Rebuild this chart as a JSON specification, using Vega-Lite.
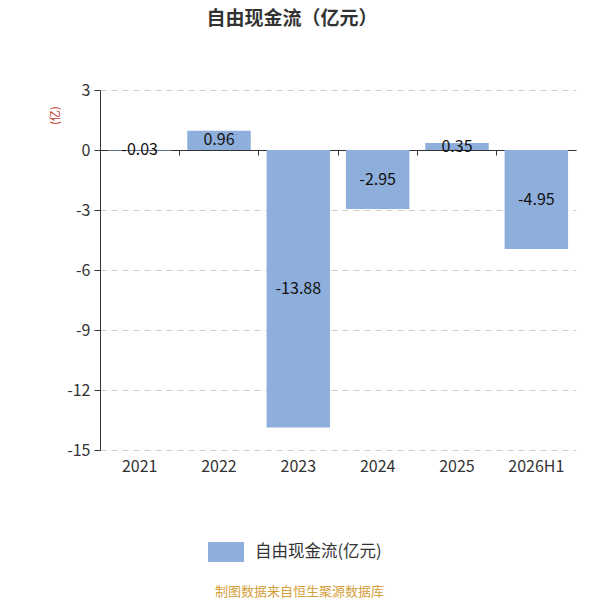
{
  "$schema": "https://vega.github.io/schema/vega-lite/v6.json",
  "autosize": "none",
  "width": 476,
  "height": 360,
  "padding": {"left": 100, "top": 90, "right": 24, "bottom": 150},
  "background": "white",
  "config": {
    "font": "Noto Sans CJK SC",
    "view": {"stroke": null}
  },
  "title": {
    "text": "自由现金流（亿元）",
    "fontSize": 19,
    "fontWeight": "bold",
    "color": "#333333",
    "anchor": "middle",
    "dx": -46,
    "offset": 53
  },
  "data": {
    "values": [
      {"year": "2021", "value": -0.03},
      {"year": "2022", "value": 0.96},
      {"year": "2023", "value": -13.88},
      {"year": "2024", "value": -2.95},
      {"year": "2025", "value": 0.35},
      {"year": "2026H1", "value": -4.95}
    ]
  },
  "encoding": {
    "x": {
      "field": "year",
      "type": "nominal",
      "sort": null,
      "scale": {"paddingInner": 0.2, "paddingOuter": 0.1}
    }
  },
  "layer": [
    {
      "mark": {"type": "bar", "color": "#8eaedb"},
      "encoding": {
        "x": {
          "field": "year",
          "type": "nominal",
          "sort": null,
          "axis": {
            "orient": "bottom",
            "offset": -300,
            "labels": false,
            "title": null,
            "domain": true,
            "domainColor": "#333333",
            "ticks": true,
            "tickColor": "#333333",
            "tickSize": 5,
            "bandPosition": -0.125
          }
        },
        "y": {
          "field": "value",
          "type": "quantitative",
          "scale": {"domain": [-15, 3], "nice": false},
          "axis": {
            "values": [-15, -12, -9, -6, -3, 0, 3],
            "labelExpr": "replace(datum.label, '−', '-')",
            "title": "(亿)",
            "titleColor": "#c0392b",
            "titleFontSize": 11,
            "titleFontWeight": "normal",
            "titleX": -40,
            "titleY": 25,
            "labelFontSize": 16,
            "labelColor": "#333333",
            "labelPadding": 4,
            "domainColor": "#333333",
            "tickColor": "#333333",
            "tickSize": 6,
            "grid": true,
            "gridColor": "#cccccc",
            "gridDash": [6, 5]
          }
        },
        "fill": {
          "datum": "自由现金流(亿元)",
          "type": "nominal",
          "scale": {"range": ["#8eaedb"]},
          "legend": {
            "title": null,
            "orient": "none",
            "legendX": 106,
            "legendY": 442,
            "symbolType": "M-0.9,-0.5H0.9V0.5H-0.9Z",
            "symbolSize": 1600,
            "symbolStrokeWidth": 0,
            "labelFontSize": 16.5,
            "labelColor": "#333333",
            "labelOffset": 9
          }
        }
      }
    },
    {
      "transform": [{"calculate": "datum.value / 2", "as": "mid"}],
      "mark": {"type": "text", "fontSize": 16, "color": "#111111", "baseline": "middle"},
      "encoding": {
        "x": {
          "field": "year",
          "type": "nominal",
          "sort": null,
          "axis": {
            "orient": "bottom",
            "domain": false,
            "ticks": false,
            "labelAngle": 0,
            "labelFontSize": 16,
            "labelColor": "#333333",
            "labelPadding": 8,
            "title": "制图数据来自恒生聚源数据库",
            "titleColor": "#d4a03a",
            "titleFontSize": 13,
            "titleFontWeight": "normal",
            "titlePadding": 111,
            "titleX": 199
          }
        },
        "y": {"field": "mid", "type": "quantitative"},
        "text": {"field": "value", "type": "nominal"}
      }
    }
  ],
  "resolve": {"axis": {"x": "independent"}}
}
